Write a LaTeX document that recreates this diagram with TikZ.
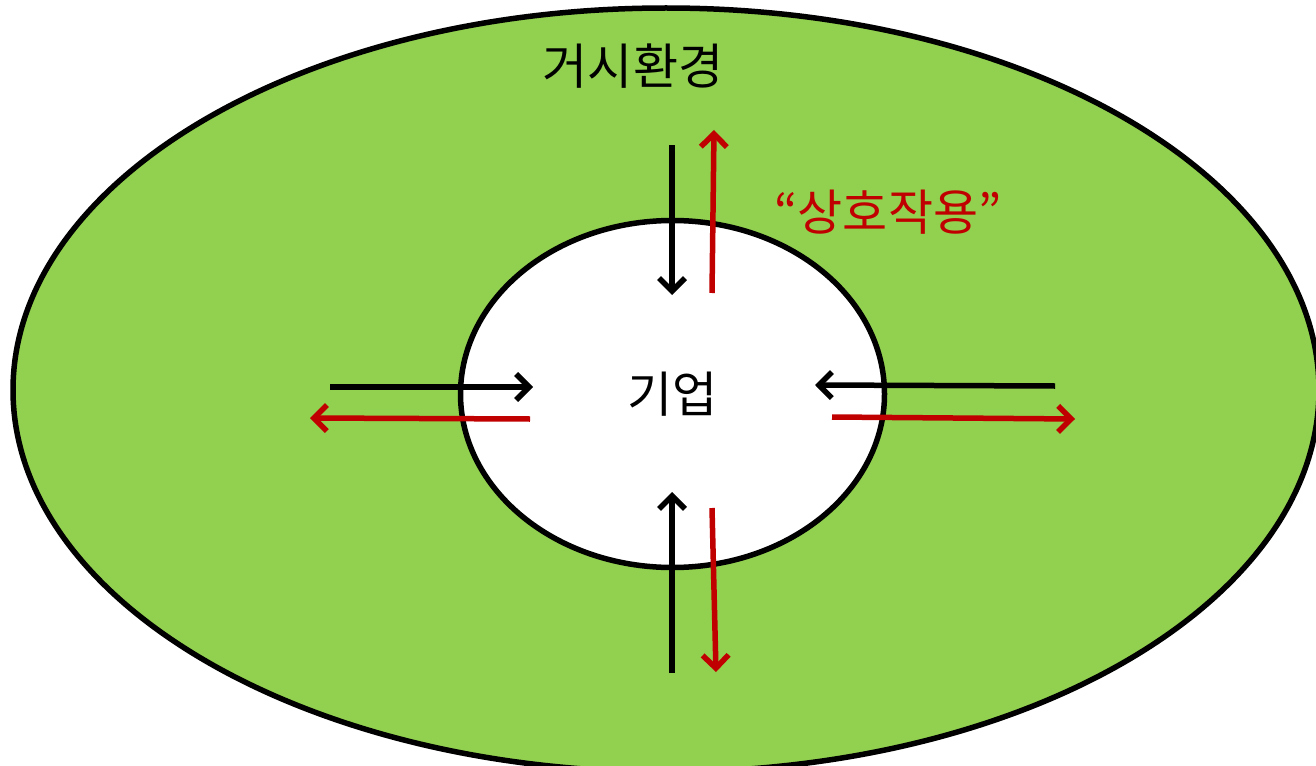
\documentclass[tikz,border=0pt]{standalone}
\usepackage{fontspec}
\usepackage{tikz}
\usetikzlibrary{arrows.meta,shapes.geometric}
\newfontfamily\kr{Noto Sans CJK KR}
\definecolor{cevreYesil}{HTML}{92D050}
\definecolor{etkiKirmizi}{HTML}{C00000}

\begin{document}
\begin{tikzpicture}[x=1pt,y=-1pt,
  ok/.style={line width=5.5pt,-{Straight Barb[length=13pt,width=26pt]}},
  halka/.style={draw,ellipse,line width=5.5pt,inner sep=0pt},
  yazi/.style={font=\kr\fontsize{49}{54}\selectfont}]
\useasboundingbox (0,0) rectangle (1316,765);
\clip (0,0) rectangle (1316,765);
\node[halka,fill=cevreYesil,minimum width=1306pt,minimum height=764pt] (cevre) at (666,390) {};
\node[halka,fill=white,minimum width=424pt,minimum height=347pt,yazi] (firma) at (672.5,394) {기업};
\node[yazi] (makro) at (633,66) {거시환경};
\node[yazi,text=etkiKirmizi] (etki) at (888,212) {“상호작용”};
% siyah: dis -> ic, kirmizi: ic -> dis
\coordinate (ust1) at (672,145);   \coordinate (ust2) at (672,295);
\coordinate (ust3) at (712,293);   \coordinate (ust4) at (714,130);
\coordinate (sol1) at (330,387);   \coordinate (sol2) at (533,387);
\coordinate (sol3) at (530,419);   \coordinate (sol4) at (310,418);
\coordinate (sag1) at (1055,386);  \coordinate (sag2) at (815,385);
\coordinate (sag3) at (832,417);   \coordinate (sag4) at (1075,419);
\coordinate (alt1) at (672,673);   \coordinate (alt2) at (672,492);
\coordinate (alt3) at (712,508);   \coordinate (alt4) at (716,672);
\foreach \y in {ust,sol,sag,alt} {
  \draw[ok] (\y1) -- (\y2);
  \draw[ok,etkiKirmizi] (\y3) -- (\y4);
}
\end{tikzpicture}
\end{document}
